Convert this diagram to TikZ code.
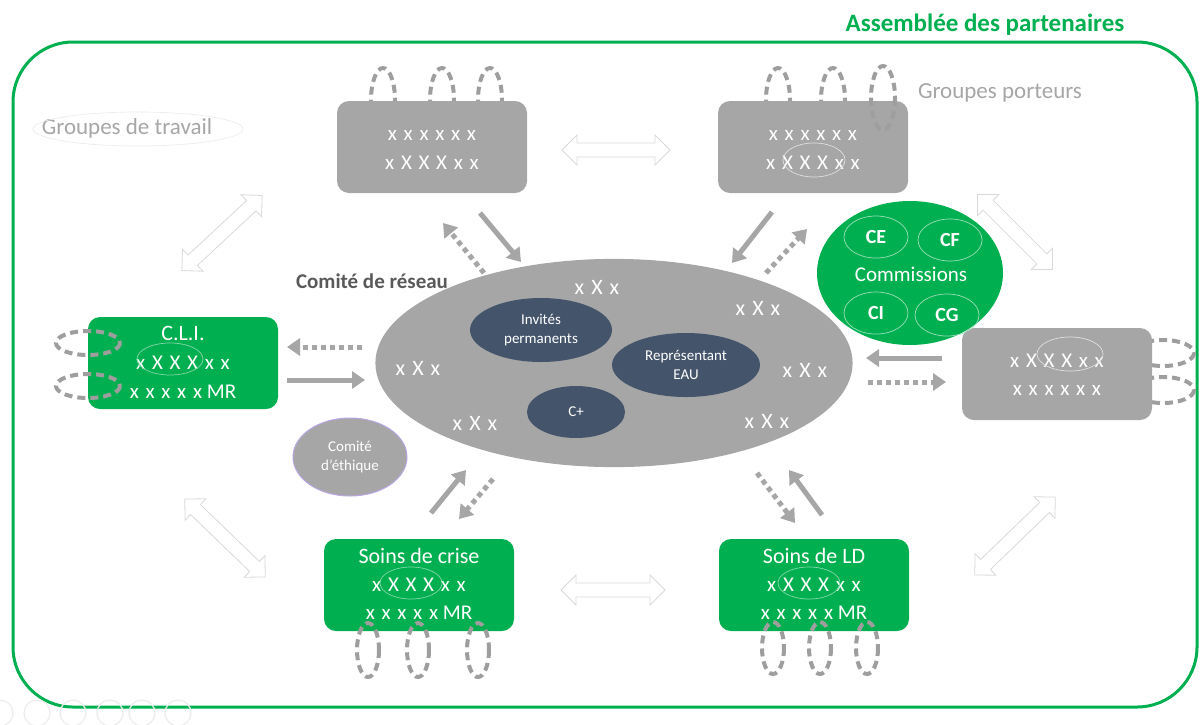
\documentclass[tikz,border=0pt]{standalone}
\usepackage{fontspec}
\setmainfont{Carlito}
\usetikzlibrary{arrows.meta,shapes.geometric}

\definecolor{vert}{HTML}{00B050}
\definecolor{gris}{HTML}{A6A6A6}
\definecolor{grisboucle}{HTML}{9E9E9E}
\definecolor{bleu}{HTML}{44546A}
\definecolor{grisfonce}{HTML}{595959}
\definecolor{lilas}{HTML}{B9A6E3}

\newcommand\espace[1]{{\addfontfeature{LetterSpace=32}#1}}

\begin{document}
\begin{tikzpicture}[
    x=1pt,y=-1pt, % one unit = one pixel of the slide, y going down
    >=Latex,
    % Boxes: rounded, filled, no border
    box/.style={rounded corners=12pt,fill=#1,minimum width=190pt,minimum height=92pt,inner sep=0pt},
    % Bubbles: filled ellipses with text
    bulle/.style={ellipse,fill=#1,inner sep=0pt,align=center,text=white,font=\fontsize{15}{19}\selectfont},
    % Texts
    xtxt/.style={text=white,inner sep=0pt,font=\fontsize{21}{23}\selectfont},
    ttl/.style={text=white,inner sep=0pt,font=\fontsize{22}{24}\selectfont},
    legende/.style={text=gris,inner sep=0pt,font=\fontsize{23}{26}\selectfont},
    % Thin rings around the XXX
    anneau/.style={draw=#1,line width=0.7pt},
    % Dashed loops hanging on the boxes
    boucle/.style={draw=grisboucle,line width=4pt,dash pattern=on 8pt off 5pt},
    % Grey exchange arrows
    flux/.style={draw=gris,line width=5pt,-{Triangle[length=13pt,width=17pt]}},
    fluxpt/.style={flux,dash pattern=on 5pt off 4pt},
    % Outlined double arrows
    dbl/.style={draw=gray!30,fill=white,line width=0.8pt,line join=miter}
]
\useasboundingbox (0,0) rectangle (1201,724);

% ==============================
% FRAME: Assemblee des partenaires
% ==============================
\draw[vert,line width=3pt,rounded corners=60pt] (13,42) rectangle (1197,707);
\node[inner sep=0pt,text=vert,font=\fontsize{25}{27}\selectfont\bfseries] (ap) at (985,25) {Assemblée des partenaires};

% faint slide controls, bottom left
\foreach \cx in {0,37,73,110,142,178}
    \draw[gray!15,line width=1.2pt] (\cx,713) circle (13);

% ==============================
% LOOPS BEHIND THE BOXES
% ==============================
\foreach \lx in {383,442,490}
    \draw[boucle] (\lx,100) ellipse (12 and 32);
\foreach \lx in {778,833}
    \draw[boucle] (\lx,100) ellipse (12 and 32);
\foreach \ly in {353,390}
    \draw[boucle] (1163,\ly) ellipse (31 and 13);

% ==============================
% GROUPES PORTEURS (grey boxes)
% ==============================
\node[box=gris] (gTL) at (432,147) {};
\node[xtxt] (gTL1) at (432,135) {\espace{xxxxxx}};
\node[xtxt] (gTL2) at (432,163) {\espace{xXXXxx}};

\node[box=gris] (gTR) at (813,147) {};
\node[xtxt] (gTR1) at (813,135) {\espace{xxxxxx}};
\node[xtxt] (gTR2) at (813,163) {\espace{xXXXxx}};
\draw[anneau=gray!25] (814,160) ellipse (31 and 17);
\draw[boucle] (883,98) ellipse (12 and 32);

\node[box=gris] (gR) at (1057,374) {};
\node[xtxt] (gR1) at (1057,361) {\espace{xXXXxx}};
\node[xtxt] (gR2) at (1057,390) {\espace{xxxxxx}};
\draw[anneau=gray!25] (1070,354) ellipse (33 and 17);

\node[legende] (gp) at (1000,93) {Groupes porteurs};
\node[legende] (gt) at (127,128) {Groupes de travail};
\draw[anneau=gray!15] (138,129) ellipse (105 and 17);

% ==============================
% GREEN BOXES
% ==============================
\node[box=vert] (cli) at (183,363) {};
\node[ttl]  (cli0) at (183,333) {C.L.I.};
\node[xtxt] (cli1) at (183,363) {\espace{xXXXxx}};
\node[xtxt] (cli2) at (183,392) {\espace{xxxxx}~MR};
\draw[anneau=vert!50!white] (170,359) ellipse (33 and 16);
\foreach \ly in {343,386}
    \draw[boucle] (88,\ly) ellipse (32 and 12);

\node[box=vert] (crise) at (419,585) {};
\node[ttl]  (crise0) at (419,556) {Soins de crise};
\node[xtxt] (crise1) at (419,585) {\espace{xXXXxx}};
\node[xtxt] (crise2) at (419,613) {\espace{xxxxx}~MR};
\draw[anneau=vert!50!white] (411,583) ellipse (31 and 16);
\foreach \lx in {368,418,478}
    \draw[boucle] (\lx,650) ellipse (11 and 27);

\node[box=vert] (ld) at (814,585) {};
\node[ttl]  (ld0) at (814,556) {Soins de LD};
\node[xtxt] (ld1) at (814,585) {\espace{xXXXxx}};
\node[xtxt] (ld2) at (814,613) {\espace{xxxxx}~MR};
\draw[anneau=vert!50!white] (809,583) ellipse (31 and 16);
\foreach \lx in {773,820,867}
    \draw[boucle] (\lx,648) ellipse (11 and 26);

% ==============================
% COMMISSIONS
% ==============================
\node[ellipse,fill=vert,minimum width=186pt,minimum height=144pt] (com) at (910,273) {};
\node[ttl,font=\fontsize{21}{23}\selectfont] (com0) at (911,274) {Commissions};
\foreach \cx/\cy/\nom in {876/237/CE,950/240/CF,876/313/CI,947/315/CG}{
    \draw[anneau=vert!40!white] (\cx,\cy) ellipse (32 and 21);
    \node[ttl,font=\fontsize{20}{22}\selectfont\bfseries] (c\nom) at (\cx,\cy) {\nom};
}

% ==============================
% COMITE DE RESEAU (central ellipse)
% ==============================
\node[ellipse,fill=gris,draw=gray!70,line width=1.2pt,minimum width=476pt,minimum height=207pt] (res) at (614,363) {};
\node[inner sep=0pt,text=grisfonce,font=\fontsize{21}{23}\selectfont\bfseries] (resT) at (372,281) {Comité de réseau};

\node[bulle=bleu,minimum width=142pt,minimum height=64pt] (inv) at (541,330) {Invités\\permanents};
\node[bulle=bleu,minimum width=148pt,minimum height=64pt] (eau) at (686,365) {Représentant\\EAU};
\node[bulle=bleu,minimum width=98pt,minimum height=52pt] (cplus) at (576,412) {C+};

\foreach \px/\py [count=\i] in {597/287,758/308,418/368,805/370,475/423,767/421}
    \node[xtxt,font=\fontsize{22}{24}\selectfont] (m\i) at (\px,\py) {\espace{xXx}};

\node[bulle=gris,draw=lilas,line width=1pt,minimum width=114pt,minimum height=78pt] (eth) at (350,457) {Comité\\d'éthique};

% ==============================
% EXCHANGE ARROWS
% ==============================
\coordinate (a1) at (480,213); \coordinate (b1) at (521,262);
\coordinate (a2) at (484,273); \coordinate (b2) at (443,223);
\coordinate (a3) at (772,212); \coordinate (b3) at (732,263);
\coordinate (a4) at (766,273); \coordinate (b4) at (807,229);
\coordinate (a5) at (362,347); \coordinate (b5) at (287,347);
\coordinate (a6) at (287,380); \coordinate (b6) at (365,380);
\coordinate (a7) at (942,358); \coordinate (b7) at (866,358);
\coordinate (a8) at (868,382); \coordinate (b8) at (946,382);
\coordinate (a9) at (431,513); \coordinate (b9) at (466,470);
\coordinate (a10) at (493,479); \coordinate (b10) at (459,519);
\coordinate (a11) at (757,473); \coordinate (b11) at (795,523);
\coordinate (a12) at (822,515); \coordinate (b12) at (789,470);

\draw[flux]   (a1) -- (b1);
\draw[fluxpt] (a2) -- (b2);
\draw[flux]   (a3) -- (b3);
\draw[fluxpt] (a4) -- (b4);
\draw[fluxpt] (a5) -- (b5);
\draw[flux]   (a6) -- (b6);
\draw[flux]   (a7) -- (b7);
\draw[fluxpt] (a8) -- (b8);
\draw[flux]   (a9) -- (b9);
\draw[fluxpt] (a10) -- (b10);
\draw[fluxpt] (a11) -- (b11);
\draw[flux]   (a12) -- (b12);

% outlined double arrows: centre x / centre y / angle / half length
\foreach \cx/\cy/\ang/\L in {616/150/0/54, 613/590/0/52, 222/233/43/55, 225/538/-44/56, 1015/232/-45/53, 1015/536/44/56}{
    \begin{scope}[shift={(\cx,\cy)},rotate=\ang]
    \draw[dbl] (-\L,0) -- (-\L+15,15) -- (-\L+15,7) -- (\L-15,7) -- (\L-15,15) -- (\L,0)
        -- (\L-15,-15) -- (\L-15,-7) -- (-\L+15,-7) -- (-\L+15,-15) -- cycle;
    \end{scope}
}
\end{tikzpicture}
\end{document}
